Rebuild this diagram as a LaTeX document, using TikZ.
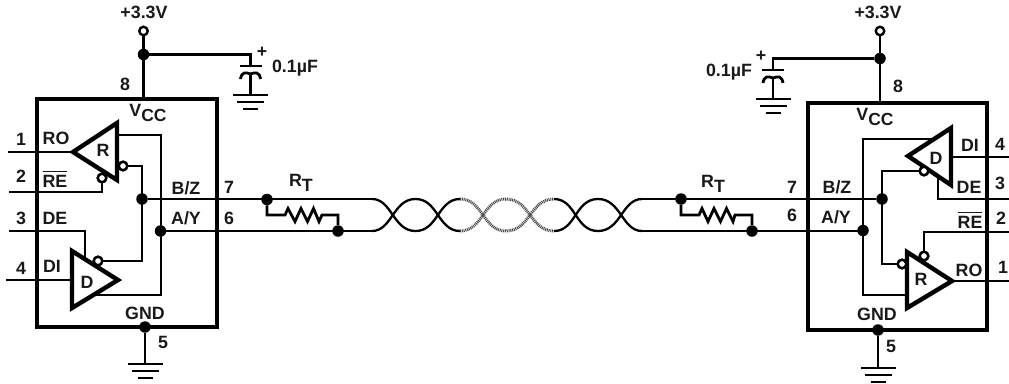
\documentclass[tikz,border=0pt]{standalone}
\usepackage{fontspec}
\usepackage{calc}
\setmainfont{Liberation Sans}
\tikzset{
  wire/.style={line width=2.8pt,line cap=butt},
  chip/.style={line width=3.2pt},
  tri/.style={line width=4.4pt,fill=white,miter limit=10,line join=miter},
  txt/.style={font=\bfseries\fontsize{17.8}{18}\selectfont,inner sep=0pt,text=black!90},
  dotj/.style={circle,fill=black,inner sep=0pt,minimum size=11.5pt},
  term/.style={circle,draw=black,fill=white,line width=2.4pt,inner sep=0pt,minimum size=8.5pt},
  twist/.style={line width=2.3pt},
  twistg/.style={line width=3pt,black!70,dash pattern=on 1pt off 0.8pt},
  gbar/.style={line width=2.8pt},
}
\newcommand{\gndsym}[3]{% x, y top, name
  \coordinate (#3) at (#1,#2);
  \draw[gbar] (#1-17.5,#2) -- (#1+17.5,#2);
  \draw[gbar] (#1-13.5,#2+7) -- (#1+13.5,#2+7);
  \draw[gbar] (#1-7.5,#2+14) -- (#1+7.5,#2+14);
}
\newcommand{\capsym}[3]{% x, y plate, name
  \coordinate (#3a) at (#1,#2);
  \coordinate (#3b) at (#1,#2+8);
  \draw[gbar] (#1-11,#2) -- (#1+11,#2);
  \draw[gbar] (#1-10,#2+13) .. controls (#1-9,#2+6) and (#1-5,#2+6) .. (#3b) .. controls (#1+5,#2+6) and (#1+9,#2+6) .. (#1+10,#2+13);
}
\newcommand{\vcc}{V\raisebox{-0.5ex}{\fontsize{17.5}{18}\selectfont CC}}
\newcommand{\rbar}{\rlap{\raisebox{15pt}{\rule{\widthof{RE}}{1.6pt}}}RE}
\begin{document}
\begin{tikzpicture}[x=1pt,y=-1pt]
\useasboundingbox (0,0) rectangle (1009,383);

% ---------- left side coordinates ----------
\coordinate (LVt) at (143.5,99);
\coordinate (LGb) at (145,327);
\coordinate (Lp1) at (8,152);   \coordinate (LRa) at (73,152);
\coordinate (Lp2) at (9,192);   \coordinate (Lp2c) at (102,192);
\coordinate (Lp3) at (9,231);   \coordinate (Lp3c) at (85,231); \coordinate (Lp3e) at (85,257);
\coordinate (Lp4) at (6,280);   \coordinate (LDb) at (72,280);
\coordinate (LRo) at (117,135); \coordinate (LRoc) at (161,135);
\coordinate (LDoc) at (161,295);\coordinate (LDo) at (90,295);
\coordinate (LRbc) at (142,166);\coordinate (LDbc) at (142,261);
\coordinate (Lw7) at (217,199);
\coordinate (Lw6) at (217,231);

% left box
\draw[chip] (37,99) rectangle (217,327);

\node[dotj] (LB) at (142,199) {};
\node[dotj] (LA) at (160.5,231) {};
\node[term] (LbR) at (123,166) {};
\node[term] (LbE) at (102,178) {};
\node[term] (LbD) at (98,261) {};

\draw[wire] (Lp1) -- (LRa);
\draw[wire] (Lp2) -- (Lp2c) -- (LbE);
\draw[wire] (Lp3) -- (Lp3c) -- (Lp3e);
\draw[wire] (Lp4) -- (LDb);
\draw[wire] (LRo) -- (LRoc) -- (LDoc) -- (LDo);
\draw[wire] (LbR) -| (LDbc) -- (LbD);
\draw[wire] (LB) -- (Lw7);
\draw[wire] (LA) -- (Lw6);

\draw[tri] (73,152) -- (117,123) -- (117,180) -- cycle;
\draw[tri] (118,280) -- (72,251) -- (72,308) -- cycle;
\node[term] at (LbR) {};
\node[term] at (LbE) {};
\node[term] at (LbD) {};

\node[txt] (LtR) at (103,150) {R};
\node[txt] (LtD) at (87,282) {D};
\node[txt] (Ln1) at (21,139) {1};
\node[txt] (LtRO) at (56,138) {RO};
\node[txt] (Ln2) at (21,176) {2};
\node[txt] (LtRE) at (55,179) {\rbar};
\node[txt] (Ln3) at (21,218) {3};
\node[txt] (LtDE) at (55,218) {DE};
\node[txt] (Ln4) at (21,268) {4};
\node[txt] (LtDI) at (52,266) {DI};
\node[txt] (LtV) at (148,113) {\vcc};
\node[txt] (LtB) at (186,188) {B/Z};
\node[txt] (LtA) at (186,218) {A/Y};
\node[txt] (Ln7) at (229,187) {7};
\node[txt] (Ln6) at (229,218) {6};
\node[txt] (LtG) at (145,313) {GND};
\node[txt] (Ln5) at (163,342) {5};
\node[txt] (Ln8) at (125,84) {8};

% left ground
\gndsym{145}{364}{LG}
\node[dotj] (LGd) at (LGb) {};
\draw[wire] (LGd) -- (LG);

% left supply
\node[term] (LT) at (143.5,31) {};
\node[dotj] (LS) at (143.5,54.5) {};
\draw[wire] (LT) -- (LS) -- (LVt);
\capsym{250.5}{66}{LC}
\gndsym{250.5}{95}{LCG}
\coordinate (LCc) at (250.5,54.5);
\draw[wire] (LS) -- (LCc) -- (LCa);
\draw[wire] (LCb) -- (LCG);
\node[txt] (Lv) at (144,12) {+3.3V};
\node[txt] (Lp) at (262,52) {+};
\node[txt] (Lcv) at (295,68) {0.1µF};

% left terminator
\node[dotj] (Lr1) at (267,199.5) {};
\node[dotj] (Lr2) at (338,231) {};
\coordinate (Lrc) at (267,215);
\coordinate (Lrs) at (285,215);
\coordinate (Lre) at (322,215);
\coordinate (Lrd) at (338,215);
\draw[wire,line join=miter] (Lr1) -- (Lrc) -- (Lrs) -- (288,208.5) -- (295,221.5) -- (301,208.5) -- (307.5,221.5) -- (313.5,208.5) -- (319,221.5) -- (Lre) -- (Lrd) -- (Lr2);
\node[txt] (LtRT) at (301,183) {R\raisebox{-0.5ex}{T}};

% ---------- right side coordinates ----------
\coordinate (RVt) at (880,103);
\coordinate (RGb) at (878,330);
\coordinate (Rp4) at (1009,157);  \coordinate (RDb) at (951,157);
\coordinate (Rp3) at (1009,199);  \coordinate (Rp3c) at (938,199); \coordinate (Rp3e) at (938,177);
\coordinate (Rp2) at (1009,232);  \coordinate (Rp2c) at (924,232);
\coordinate (Rp1) at (1009,281);  \coordinate (RRa) at (952,281);
\coordinate (RDo) at (938,139);   \coordinate (RDoc) at (863,139);
\coordinate (RRoc) at (863,295);  \coordinate (RRo) at (910,295);
\coordinate (RDbc) at (882,171);  \coordinate (RRbc) at (882,264);
\coordinate (Rw7) at (808,199);
\coordinate (Rw6) at (808,231);

\draw[chip] (808,103) rectangle (987,330);

\node[dotj] (RB) at (882,199) {};
\node[dotj] (RA) at (863,230.5) {};
\node[term] (RbD) at (924,171) {};
\node[term] (RbR) at (902,264) {};
\node[term] (RbE) at (924,256) {};

\draw[wire] (Rp4) -- (RDb);
\draw[wire] (Rp3) -- (Rp3c) -- (Rp3e);
\draw[wire] (Rp2) -- (Rp2c) -- (RbE);
\draw[wire] (Rp1) -- (RRa);
\draw[wire] (RDo) -- (RDoc) -- (RRoc) -- (RRo);
\draw[wire] (RbD) -| (RRbc) -- (RbR);
\draw[wire] (RB) -- (Rw7);
\draw[wire] (RA |- Rw6) -- (Rw6);

\draw[tri] (908,156) -- (951,128) -- (951,185) -- cycle;
\draw[tri] (952,281) -- (907,252) -- (907,308) -- cycle;
\node[term] at (RbD) {};
\node[term] at (RbR) {};
\node[term] at (RbE) {};

\node[txt] (RtD) at (936,158) {D};
\node[txt] (RtR) at (921,279) {R};
\node[txt] (RtDI) at (970,145) {DI};
\node[txt] (Rn4) at (1000,144) {4};
\node[txt] (RtDE) at (969,187) {DE};
\node[txt] (Rn3) at (1000,183) {3};
\node[txt] (RtRE) at (970,220) {\rbar};
\node[txt] (Rn2) at (1001,218) {2};
\node[txt] (RtRO) at (969,270) {RO};
\node[txt] (Rn1) at (1003,267) {1};
\node[txt] (RtV) at (875,117) {\vcc};
\node[txt] (RtB) at (837,187) {B/Z};
\node[txt] (RtA) at (836,217) {A/Y};
\node[txt] (Rn7) at (792,187) {7};
\node[txt] (Rn6) at (792,215) {6};
\node[txt] (RtG) at (877,314) {GND};
\node[txt] (Rn5) at (891,346) {5};
\node[txt] (Rn8) at (898,86) {8};

\gndsym{878}{368}{RG}
\node[dotj] (RGd) at (RGb) {};
\draw[wire] (RGd) -- (RG);

\node[term] (RT) at (880,31) {};
\node[dotj] (RS) at (880,58.5) {};
\draw[wire] (RT) -- (RS) -- (RVt);
\capsym{773}{70}{RC}
\gndsym{773}{99}{RCG}
\coordinate (RCc) at (773,58.5);
\draw[wire] (RS) -- (RCc) -- (RCa);
\draw[wire] (RCb) -- (RCG);
\node[txt] (Rv) at (878,12) {+3.3V};
\node[txt] (Rp) at (761,56) {+};
\node[txt] (Rcv) at (729,72) {0.1µF};

\node[dotj] (Rr1) at (681,199) {};
\node[dotj] (Rr2) at (752,231) {};
\coordinate (Rrc) at (681,215);
\coordinate (Rrs) at (699,215);
\coordinate (Rre) at (735,215);
\coordinate (Rrd) at (752,215);
\draw[wire,line join=miter] (Rr1) -- (Rrc) -- (Rrs) -- (702,208.5) -- (708,221.5) -- (714,208.5) -- (720.5,221.5) -- (726.5,208.5) -- (733,221.5) -- (Rre) -- (Rrd) -- (Rr2);
\node[txt] (RtRT) at (713,184) {R\raisebox{-0.5ex}{T}};

% ---------- cable ----------
\coordinate (T0) at (372,199);  \coordinate (B0) at (372,231);
\coordinate (T1) at (642,199);  \coordinate (B1) at (642,231);
\draw[wire] (Lw7) -- (T0);
\draw[wire] (Lw6) -- (B0);
\draw[wire] (T1) -- (Rw7);
\draw[wire] (B1) -- (Rw6);
% black twists
\draw[twist] (T0) .. controls (392,199) and (393,231) .. (415.5,231) .. controls (438,231) and (438,199) .. (460,199);
\draw[twist] (B0) .. controls (392,231) and (393,199) .. (415.5,199) .. controls (438,199) and (438,231) .. (460,231);
\draw[twist] (T1) .. controls (622,199) and (621,231) .. (598,231) .. controls (575,231) and (576,199) .. (554,199);
\draw[twist] (B1) .. controls (622,231) and (621,199) .. (598,199) .. controls (575,199) and (576,231) .. (554,231);
% grey twists
\draw[twistg] (460,199) .. controls (483,199) and (483,231) .. (506,231) .. controls (530,231) and (530,199) .. (554,199);
\draw[twistg] (460,231) .. controls (483,231) and (483,199) .. (506,199) .. controls (530,199) and (530,231) .. (554,231);
\end{tikzpicture}
\end{document}
